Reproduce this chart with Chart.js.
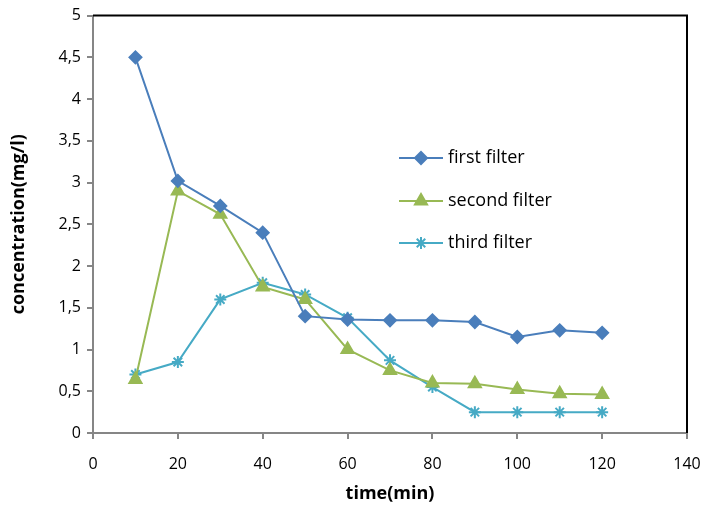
<!DOCTYPE html>
<html>
<head>
<meta charset="utf-8">
<script src="https://cdn.jsdelivr.net/npm/chart.js@4.4.0/dist/chart.umd.min.js"></script>
<style>
html,body{margin:0;padding:0;background:#fff;}
#wrap{width:704px;height:505px;position:relative;}
</style>
</head>
<body>
<div id="wrap"><canvas id="c" width="704" height="505"></canvas></div>
<script>
const times = [10,20,30,40,50,60,70,80,90,100,110,120];
const firstFilter  = [4.5,3.02,2.72,2.4,1.4,1.36,1.35,1.35,1.33,1.15,1.23,1.2];
const secondFilter = [0.64,2.9,2.62,1.75,1.6,1.0,0.75,0.6,0.59,0.52,0.47,0.46];
const thirdFilter  = [0.7,0.85,1.6,1.8,1.66,1.38,0.87,0.55,0.25,0.25,0.25,0.25];
const seriesNames = ['first filter','second filter','third filter'];
const xTitle = 'time(min)';
const yTitle = 'concentration(mg/l)';

const FONT = '"Open Sans", Lato, sans-serif';
const colors = ['#4A7EBB','#98B954','#46AAC5'];
const shapes = ['rectRot','triangle','star'];
const radii = [6,7,6];

function toPts(arr){ return times.map((t,i)=>({x:t,y:arr[i]})); }
const allSeries = [firstFilter, secondFilter, thirdFilter];

const frame = {
  id:'frame',
  afterDatasetsDraw(chart){
    const {ctx, chartArea:a} = chart;
    ctx.save();
    ctx.strokeStyle = '#000';
    ctx.lineWidth = 2;
    ctx.beginPath();
    ctx.moveTo(a.left, a.top);
    ctx.lineTo(a.right, a.top);
    ctx.lineTo(a.right, a.bottom);
    ctx.stroke();
    ctx.restore();
  }
};

const legendPlugin = {
  id:'customLegend',
  afterDraw(chart){
    const ctx = chart.ctx;
    const ys = [158,201,243];
    ctx.save();
    seriesNames.forEach((name,i)=>{
      const y = ys[i];
      ctx.strokeStyle = colors[i];
      ctx.lineWidth = 2;
      ctx.beginPath();
      ctx.moveTo(399,y); ctx.lineTo(443,y); ctx.stroke();
      ctx.fillStyle = colors[i];
      ctx.strokeStyle = colors[i];
      Chart.helpers.drawPoint(ctx, {pointStyle:shapes[i], radius:radii[i], rotation:0, borderWidth:2}, 421, y);
      ctx.fillStyle = '#000';
      ctx.font = '18px ' + FONT;
      ctx.textBaseline = 'middle';
      ctx.textAlign = 'left';
      ctx.fillText(name, 448, y);
    });
    ctx.restore();
  }
};

new Chart(document.getElementById('c'), {
  type:'line',
  data:{
    datasets: allSeries.map((arr,i)=>({
      label: seriesNames[i],
      data: toPts(arr),
      borderColor: colors[i],
      backgroundColor: colors[i],
      borderWidth: 2,
      pointStyle: shapes[i],
      pointRadius: radii[i],
      pointBorderWidth: 2,
      pointBorderColor: colors[i],
      pointBackgroundColor: colors[i],
      tension: 0,
      fill: false
    }))
  },
  options:{
    responsive:false,
    animation:false,
    devicePixelRatio:1,
    layout:{padding:{top:14,right:0,left:0,bottom:0}},
    plugins:{legend:{display:false},tooltip:{enabled:false}},
    scales:{
      x:{
        type:'linear', min:0, max:140,
        afterFit(s){ s.height = 72; s.paddingRight = 17; s.paddingLeft = 0; },
        ticks:{stepSize:20, color:'#000', font:{family:FONT,size:16}, padding:16},
        grid:{display:true, drawOnChartArea:false, drawTicks:true, tickLength:6, color:'#868686', lineWidth:2},
        border:{display:true, color:'#868686', width:2},
        title:{display:true, text:xTitle, color:'#000', font:{family:FONT,size:18,weight:'bold'}, padding:{top:0,bottom:0}}
      },
      y:{
        type:'linear', min:0, max:5,
        afterFit(s){ s.width = 93; },
        ticks:{stepSize:0.5, color:'#000', font:{family:FONT,size:16}, padding:6,
          callback:(v)=>String(v).replace('.',',')},
        grid:{display:true, drawOnChartArea:false, drawTicks:true, tickLength:6, color:'#868686', lineWidth:2},
        border:{display:true, color:'#868686', width:2},
        title:{display:true, text:yTitle, color:'#000', font:{family:FONT,size:18,weight:'bold'}, padding:{top:8,bottom:8}}
      }
    }
  },
  plugins:[frame, legendPlugin]
});
</script>
</body>
</html>
